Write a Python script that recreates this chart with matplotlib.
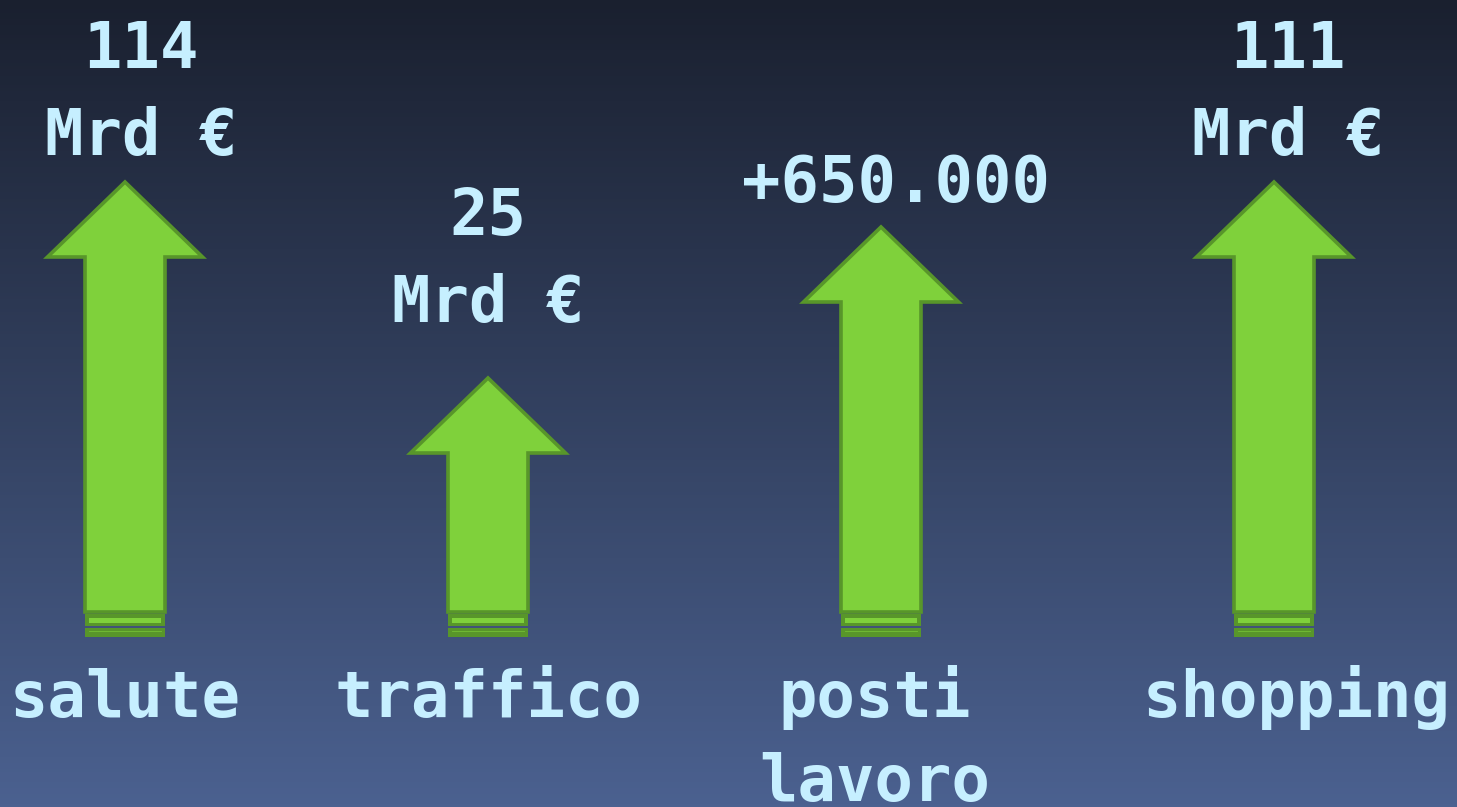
import numpy as np
import matplotlib
matplotlib.use("Agg")
import matplotlib.pyplot as plt
from matplotlib.patches import Polygon, Rectangle

# ---- data ----
categories = ["salute", "traffico", "posti\nlavoro", "shopping"]
value_labels = ["114\nMrd €", "25\nMrd €", "+650.000", "111\nMrd €"]
arrow_heights = [430, 234, 385, 430]   # arrow length (px units)

# ---- layout ----
W, H = 1457, 807
centers = [125, 488, 881, 1274]
top_label_x = [141, 488, 896, 1288]
bottom_label_x = [125, 488, 875, 1297]
top_label_gap = [27, 56, 25, 27]       # gap between last label baseline and arrow tip
base_y = 612
head_len = 75
head_half = 77.5
shaft_half = 40
line_pitch = 87

fill_c = "#7fd13b"
edge_c = "#58962a"
text_c = "#c6efff"

fig = plt.figure(figsize=(W / 100, H / 100), dpi=100)
ax = fig.add_axes([0, 0, 1, 1])
ax.set_xlim(0, W)
ax.set_ylim(H, 0)
ax.axis("off")

# background gradient
top = np.array([0x1a, 0x20, 0x2f]) / 255
bot = np.array([0x4b, 0x61, 0x90]) / 255
t = np.linspace(0, 1, 256)[:, None]
grad = top[None, :] * (1 - t) + bot[None, :] * t
ax.imshow(grad[:, None, :].repeat(2, axis=1), extent=[0, W, H, 0], aspect="auto", zorder=0)

font = dict(family="DejaVu Sans Mono", weight="bold", size=46, color=text_c)

for i, cx in enumerate(centers):
    tip = base_y - arrow_heights[i]
    hb = tip + head_len
    pts = [(cx, tip), (cx + head_half, hb), (cx + shaft_half, hb), (cx + shaft_half, base_y),
           (cx - shaft_half, base_y), (cx - shaft_half, hb), (cx - head_half, hb)]
    ax.add_patch(Polygon(pts, closed=True, facecolor=fill_c, edgecolor=edge_c,
                         linewidth=2.6, joinstyle="miter", zorder=3))
    # base strips
    ax.add_patch(Rectangle((cx - shaft_half, base_y + 2), 2 * shaft_half, 12,
                           facecolor=edge_c, edgecolor="none", zorder=3))
    ax.add_patch(Rectangle((cx - shaft_half + 4, base_y + 6), 2 * shaft_half - 8, 5,
                           facecolor=fill_c, edgecolor="none", zorder=4))
    ax.add_patch(Rectangle((cx - shaft_half, base_y + 16), 2 * shaft_half, 9,
                           facecolor=edge_c, edgecolor="none", zorder=3))
    ax.plot([cx - shaft_half + 4, cx + shaft_half - 4], [base_y + 19, base_y + 19],
            color=fill_c, lw=0.6, alpha=0.7, zorder=4)

    # value label
    lines = value_labels[i].split("\n")
    last_base = tip - top_label_gap[i]
    for j, ln in enumerate(lines):
        y = last_base - (len(lines) - 1 - j) * line_pitch
        ax.text(top_label_x[i], y, ln, ha="center", va="baseline", zorder=5, **font)

    # category label
    clines = categories[i].split("\n")
    for j, ln in enumerate(clines):
        y = 717 + j * (line_pitch - 3)
        ax.text(bottom_label_x[i], y, ln, ha="center", va="baseline", zorder=5, **font)

fig.savefig("out.png", dpi=100)
